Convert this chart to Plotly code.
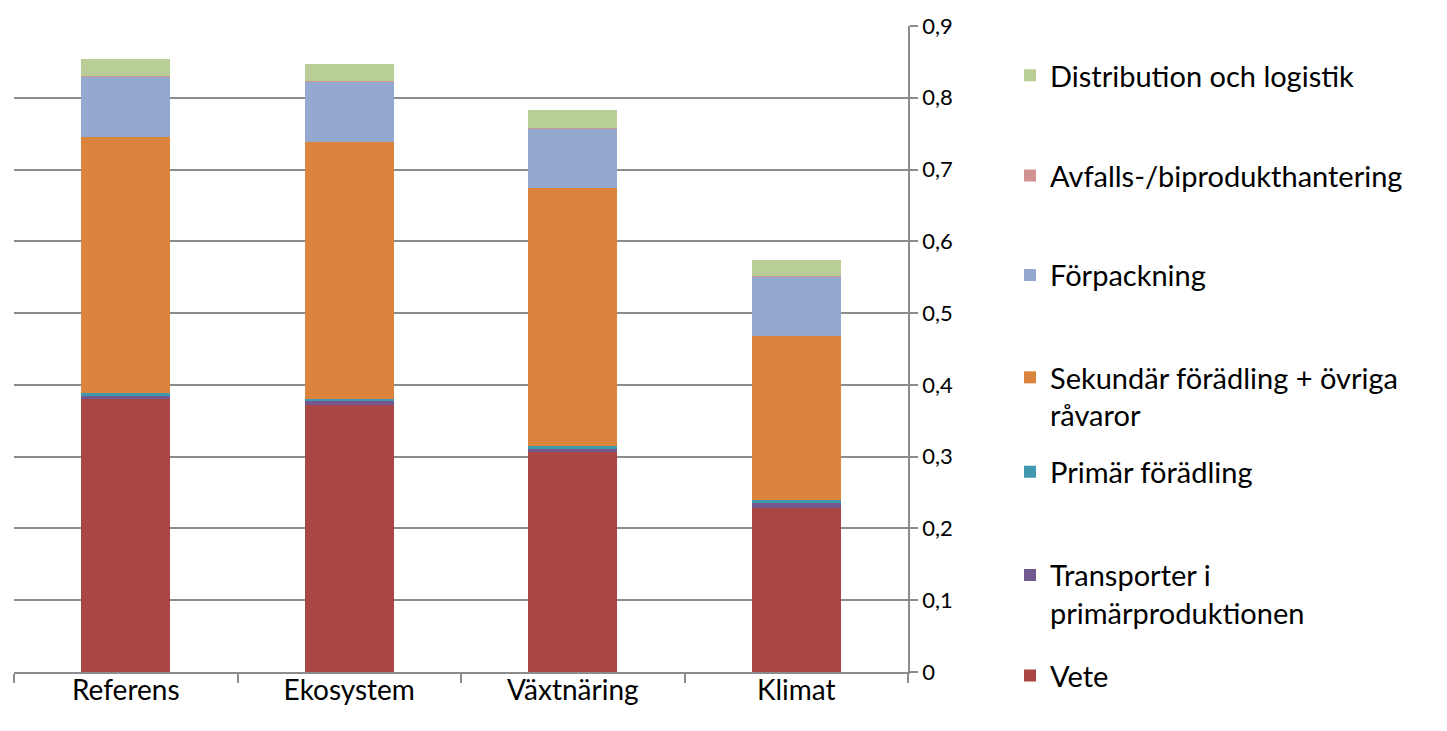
import plotly.graph_objects as go

# Scenarios on the x axis
categories = ["Referens", "Ekosystem", "Växtnäring", "Klimat"]

# Contribution per life-cycle stage (stacked bottom to top)
vete = [0.381, 0.372, 0.307, 0.228]
transporter = [0.004, 0.005, 0.004, 0.008]
primar = [0.004, 0.004, 0.004, 0.004]
sekundar = [0.357, 0.358, 0.359, 0.228]
forpackning = [0.084, 0.084, 0.083, 0.083]
avfall = [0.0004, 0.0004, 0.0004, 0.0004]
distribution = [0.024, 0.024, 0.025, 0.023]

y_ticks = [0, 0.1, 0.2, 0.3, 0.4, 0.5, 0.6, 0.7, 0.8, 0.9]

series = [
    ("Vete", vete, "#AA4643"),
    ("Transporter i<br>primärproduktionen", transporter, "#71588F"),
    ("Primär förädling", primar, "#4198AF"),
    ("Sekundär förädling + övriga<br>råvaror", sekundar, "#DB843D"),
    ("Förpackning", forpackning, "#93A9CF"),
    ("Avfalls-/biprodukthantering", avfall, "#D19392"),
    ("Distribution och logistik", distribution, "#B9CD96"),
]

# Legend rows (pixel centre of first text line), listed in the same order as series
legend_rows = [679, 578, 474, 379, 276, 176, 75]

W, H = 1447, 731
L, R, T, B = 14, 539, 22, 59
plot_w = W - L - R
plot_h = H - T - B

FONT = "Lato, Carlito, 'Liberation Sans', sans-serif"

fig = go.Figure()
layout_legends = {}
for i, (name, vals, color) in enumerate(series):
    key = "legend" if i == 0 else f"legend{i + 1}"
    fig.add_trace(go.Bar(
        x=categories, y=vals, name=name,
        marker=dict(color=color, line=dict(width=0)),
        legend=key,
    ))
    row = legend_rows[i]
    layout_legends[key] = dict(
        x=(1010 - L) / plot_w,
        xanchor="left",
        y=(H - B - (row - 29)) / plot_h,
        yanchor="top",
        valign="top",
        bgcolor="rgba(0,0,0,0)",
        font=dict(family=FONT, size=29, color="#000000"),
        itemwidth=30,
    )

fig.update_layout(
    barmode="stack",
    bargap=0.6,
    width=W, height=H,
    margin=dict(l=L, r=R, t=T, b=B, pad=0),
    paper_bgcolor="white",
    plot_bgcolor="white",
    separators=", ",
    showlegend=True,
    font=dict(family=FONT, color="#000000"),
    xaxis=dict(
        type="category",
        showline=True, linecolor="#8c8c8c", linewidth=1.5,
        ticks="outside", tickson="boundaries", ticklen=9,
        tickcolor="#8c8c8c", tickwidth=1.5,
        tickfont=dict(family=FONT, size=28, color="#000000"),
        ticklabelstandoff=-7,
        showgrid=False,
    ),
    yaxis=dict(
        side="right",
        range=[0, 0.9],
        tickvals=y_ticks,
        showline=True, linecolor="#8c8c8c", linewidth=1.5,
        ticks="outside", ticklen=8, tickcolor="#8c8c8c", tickwidth=1.5,
        showgrid=True, gridcolor="#8c8c8c", gridwidth=1.5,
        zeroline=False,
        tickfont=dict(family=FONT, size=22, color="#000000"),
    ),
    **layout_legends,
)

fig.write_html("out.html")
